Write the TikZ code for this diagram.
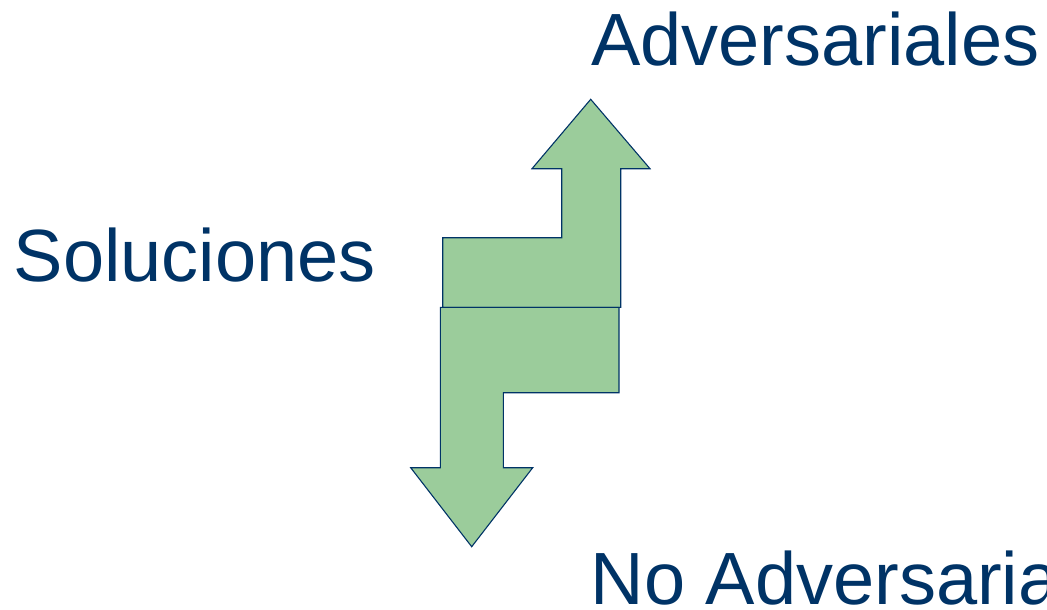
\documentclass[tikz,border=0pt]{standalone}
\usepackage{fontspec}
\setmainfont{Liberation Sans}
\definecolor{navy}{RGB}{0,51,102}
\definecolor{leaf}{RGB}{155,204,155}
\begin{document}
\begin{tikzpicture}[x=1pt,y=-1pt,
  arrowshape/.style={fill=leaf,draw=navy,line width=1.1pt,line join=miter},
  label/.style={inner sep=0pt,anchor=base west,text=navy,font=\fontsize{74}{80}\selectfont}]
\useasboundingbox (0,0) rectangle (1047,610);
\clip (0,0) rectangle (1047,610);
% upper arrow
\draw[arrowshape] (442.7,307.3) -- (442.7,237.7) -- (561.7,237.7) -- (561.7,168.7)
  -- (532,168.7) -- (590.7,99.3) -- (650,168.7) -- (620.7,168.7) -- (620.7,307.3) -- cycle;
% lower arrow
\draw[arrowshape] (440.3,307.3) -- (619,307.3) -- (619,392.7) -- (503.3,392.7)
  -- (503.3,467.7) -- (532.7,467.7) -- (471.7,546.7) -- (410.7,467.7) -- (440.3,467.7) -- cycle;
\node[label] (adv) at (591,66) {Adversariales};
\node[label] (sol) at (13.5,281) {Soluciones};
\node[label] (noadv) at (590.5,604) {No Adversariales};
\end{tikzpicture}
\end{document}
